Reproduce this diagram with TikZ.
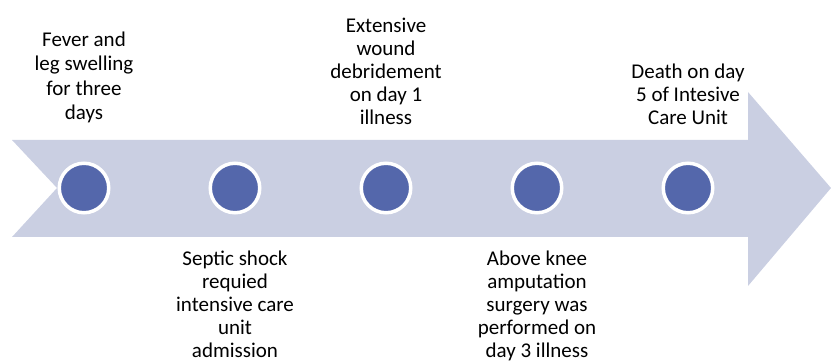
\documentclass[tikz,border=0pt]{standalone}
\usepackage{fontspec}
\setmainfont{Carlito}
\usetikzlibrary{positioning}
\definecolor{bandcol}{RGB}{202,207,226}
\definecolor{dotcol}{RGB}{84,103,171}

\begin{document}
\begin{tikzpicture}[
		x=1pt, y=-1pt,
		% Define styles for nodes
		event/.style={circle, fill=dotcol, draw=white, line width=3.5pt, minimum size=49.5pt, inner sep=0pt},
		note/.style={align=center, inner sep=0pt, font=\fontsize{21}{23}\selectfont},
		node distance=37pt
	]

	\useasboundingbox (0,0) rectangle (831,363);

	% Timeline arrow
	\fill[bandcol] (12,140) -- (748,140) -- (748,92) -- (831,188) -- (748,286)
		-- (748,237) -- (12,237) -- (57,188) -- cycle;

	% Events
	\node[event] (e1) at (84,188) {};
	\node[event] (e2) at (235,188) {};
	\node[event] (e3) at (386,188) {};
	\node[event] (e4) at (537,188) {};
	\node[event] (e5) at (688,188) {};

	% Texts above
	\node[note, above=38pt of e1, font=\fontsize{21}{24.5}\selectfont] (t1) {Fever and\\leg swelling\\for three\\days};
	\node[note, above=of e3] (t3) {Extensive\\wound\\debridement\\on day 1\\illness};
	\node[note, above=of e5] (t5) {Death on day\\5 of Intesive\\Care Unit};

	% Texts below
	\node[note, below=36pt of e2] (t2) {Septic shock\\requied\\intensive care\\unit\\admission};
	\node[note, below=36pt of e4] (t4) {Above knee\\amputation\\surgery was\\performed on\\day 3 illness};
\end{tikzpicture}
\end{document}
